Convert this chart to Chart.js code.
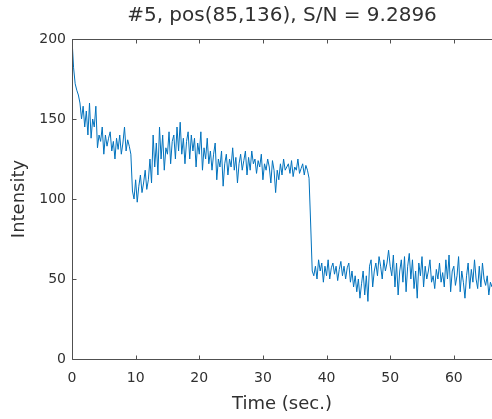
<!DOCTYPE html>
<html><head><meta charset="utf-8">
<script src="https://cdn.jsdelivr.net/npm/chart.js@4/dist/chart.umd.min.js"></script>
<style>html,body{margin:0;padding:0;background:#fff;overflow:hidden}#wrap{width:492px;height:419px}</style>
</head><body><div id="wrap"><canvas id="c" width="492" height="419"></canvas></div>
<script>
// ---- data ----
const titleText = '#5, pos(85,136), S/N = 9.2896';
const xLabel = 'Time (sec.)';
const yLabel = 'Intensity';
const sampleInterval = 0.25; // seconds between samples
const intensity = [
  200,182,172,168, 165,160,150,158, 145,155,140,160, 138,150,145,158,
  132,140,136,145, 128,140,133,138, 142,130,136,125, 138,131,140,128,
  135,145,130,137, 133,128,105,100, 112,98,108,115, 104,110,118,106,
  112,125,110,140, 120,135,115,145, 125,140,118,132, 128,142,122,136,
  140,125,145,130, 148,128,138,122, 136,142,125,140, 130,138,120,135,
  128,142,118,132, 125,138,122,130, 118,128,135,112, 125,120,130,108,
  122,128,115,125, 120,132,118,126, 110,122,128,118, 124,130,115,126,
  118,130,122,125, 116,124,120,128, 112,122,118,125, 120,110,124,118,
  104,118,112,122, 115,125,118,120, 122,116,124,114, 120,118,125,116,
  119,122,115,121, 118,113,85,55,  52,58,50,62,     55,60,48,58,
  52,62,50,57,     60,53,58,49,     56,61,52,58,     50,57,60,48,
  55,45,52,42,     50,38,47,55,     40,52,36,58,     62,45,55,60,
  52,64,58,50,     62,55,60,68,     58,52,65,45,     60,40,55,62,
  48,64,42,58,     66,50,62,44,     55,38,60,52,     64,45,58,50,
  55,62,48,52,     44,56,50,60,     48,54,45,62,     50,65,42,55,
  58,46,52,64,     42,55,48,38,     52,60,44,56,     48,62,50,44,
  58,45,60,50,     46,52,40,48,     45
];
const xTicks = [0,10,20,30,40,50,60];
const yTicks = [0,50,100,150,200];
const xRange = [0,66];
const yRange = [0,200];

const points = intensity.map((v,i)=>({x:i*sampleInterval, y:v}));

const axisColor = '#505050';
const textColor = '#303030';
const fam = '"DejaVu Sans", "Liberation Sans", Arial, sans-serif';

const matlabAxes = {
  id:'matlabAxes',
  afterDatasetsDraw(chart){
    const {ctx, chartArea:{left,right,top,bottom}, scales:{x,y}} = chart;
    ctx.save();
    ctx.strokeStyle = axisColor; ctx.lineWidth = 1;
    ctx.beginPath();
    const L = Math.round(left)+0.5, B = Math.round(bottom)+0.5, T = Math.round(top)+0.5;
    ctx.moveTo(L,T); ctx.lineTo(L,B); ctx.lineTo(right,B);
    ctx.moveTo(L,T); ctx.lineTo(right,T);
    xTicks.forEach(v=>{
      const px = Math.round(x.getPixelForValue(v))+0.5;
      ctx.moveTo(px,B); ctx.lineTo(px,B-4);
      ctx.moveTo(px,T); ctx.lineTo(px,T+4);
    });
    yTicks.forEach(v=>{
      const py = Math.round(y.getPixelForValue(v))+0.5;
      ctx.moveTo(L,py); ctx.lineTo(L+4,py);
    });
    ctx.stroke();
    // title centred over the plot area (MATLAB style)
    ctx.fillStyle = textColor;
    ctx.font = '20px ' + fam;
    ctx.textAlign = 'center';
    ctx.textBaseline = 'middle';
    ctx.fillText(titleText, (left+right)/2, 16);
    ctx.restore();
  }
};

new Chart(document.getElementById('c'), {
  type:'line',
  data:{datasets:[{
    data:points,
    borderColor:'rgb(0,114,189)',
    borderWidth:1,
    pointRadius:0,
    tension:0,
    fill:false
  }]},
  options:{
    responsive:false,
    animation:false,
    layout:{padding:{left:0,right:0,top:39,bottom:0}},
    plugins:{
      legend:{display:false},
      tooltip:{enabled:false},
      title:{display:false}
    },
    scales:{
      x:{type:'linear',min:xRange[0],max:xRange[1],
        afterBuildTicks:s=>{s.ticks = xTicks.map(v=>({value:v}));},
        afterFit:s=>{s.height = 60;},
        grid:{display:false,drawTicks:false},
        border:{display:false},
        ticks:{color:textColor,font:{family:fam,size:14},padding:10.5,maxRotation:0,autoSkip:false},
        title:{display:true,text:xLabel,color:textColor,font:{family:fam,size:18},padding:{top:0,bottom:4}}
      },
      y:{type:'linear',min:yRange[0],max:yRange[1],
        afterBuildTicks:s=>{s.ticks = yTicks.map(v=>({value:v}));},
        afterFit:s=>{s.width = 72;},
        grid:{display:false,drawTicks:false},
        border:{display:false},
        ticks:{color:textColor,font:{family:fam,size:14},padding:6,autoSkip:false},
        title:{display:true,text:yLabel,color:textColor,font:{family:fam,size:18},padding:{top:9,bottom:0}}
      }
    }
  },
  plugins:[matlabAxes]
});
</script>
</body></html>
